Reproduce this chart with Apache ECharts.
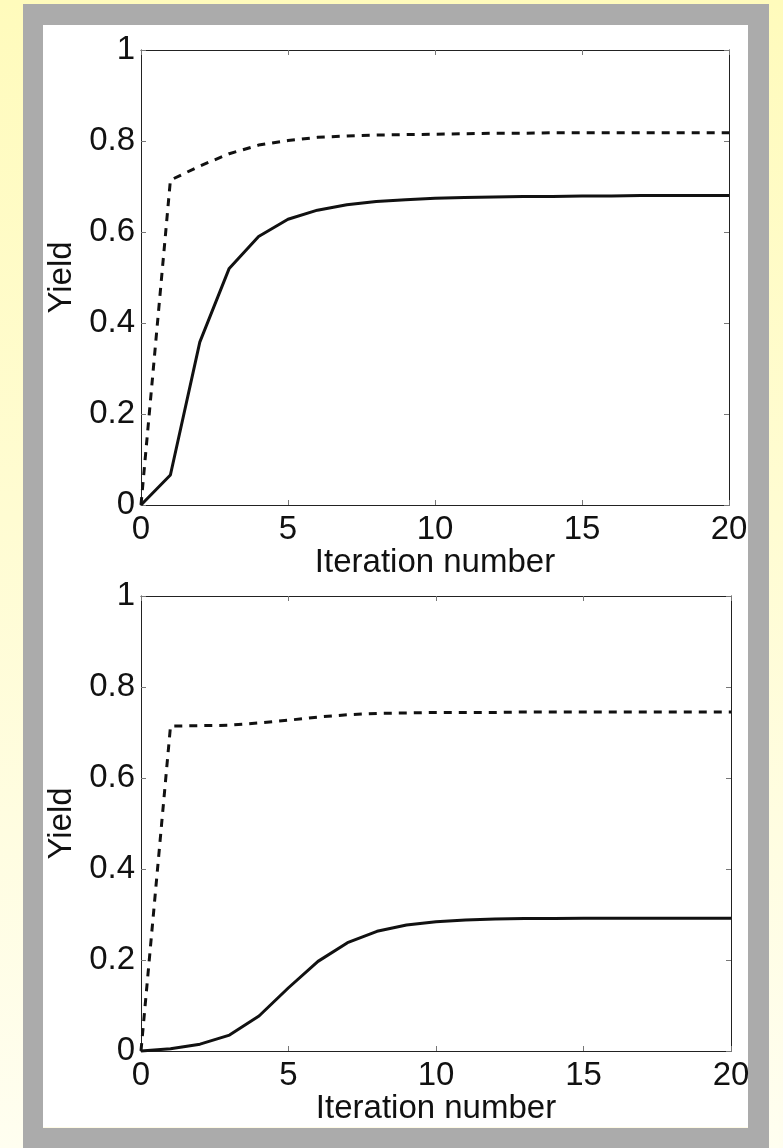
<!DOCTYPE html>
<html>
<head>
<meta charset="utf-8">
<script src="https://cdn.jsdelivr.net/npm/echarts@6/dist/echarts.min.js"></script>
<style>
  html, body { margin: 0; padding: 0; }
  body { width: 783px; height: 1148px; overflow: hidden; position: relative;
         background: linear-gradient(to bottom, #FFFBBC 0%, #FFFCD2 45%, #FFFEF0 100%); }
  #frame { position: absolute; left: 23px; top: 4px; width: 746px; height: 1150px; background: #ABABAB; }
  #inner { position: absolute; left: 43px; top: 25px; width: 705px; height: 1103px; background: #FFFFFF;
           border-bottom: 1px solid #FFFBE6; box-sizing: border-box; }
  #chart { position: absolute; left: 0; top: 0; width: 783px; height: 1148px; }
</style>
</head>
<body>
<div id="frame"></div>
<div id="inner"></div>
<div id="chart"></div>
<script>
// ---- data ----
const iterations = [0,1,2,3,4,5,6,7,8,9,10,11,12,13,14,15,16,17,18,19,20];
const xTicks = [0, 5, 10, 15, 20];
const yTicks = [0, 0.2, 0.4, 0.6, 0.8, 1];
const topSolid  = [0, 0.066, 0.358, 0.52, 0.59, 0.628, 0.648, 0.660, 0.667, 0.671, 0.674, 0.676, 0.677, 0.678, 0.678, 0.679, 0.679, 0.680, 0.680, 0.680, 0.680];
const topDashed = [0, 0.714, 0.745, 0.772, 0.791, 0.801, 0.808, 0.811, 0.813, 0.814, 0.815, 0.816, 0.817, 0.817, 0.818, 0.818, 0.818, 0.818, 0.818, 0.818, 0.818];
const botSolid  = [0, 0.005, 0.015, 0.035, 0.077, 0.139, 0.197, 0.238, 0.263, 0.277, 0.284, 0.288, 0.290, 0.291, 0.291, 0.292, 0.292, 0.292, 0.292, 0.292, 0.292];
const botDashed = [0, 0.714, 0.715, 0.716, 0.721, 0.727, 0.734, 0.739, 0.742, 0.743, 0.744, 0.744, 0.744, 0.745, 0.745, 0.745, 0.745, 0.745, 0.745, 0.745, 0.745];
const xName = 'Iteration number';
const yName = 'Yield';

// ---- chart ----
const FONT = "'Liberation Sans', Arial, Helvetica, sans-serif";
const FS = 33;
const pairs = arr => iterations.map((x, i) => [x, arr[i]]);

function xAxes(gi) {
  return [
    { type: 'value', gridIndex: gi, position: 'bottom', min: xTicks[0], max: xTicks[xTicks.length-1], interval: 5,
      name: xName, nameLocation: 'middle', nameGap: 40,
      nameTextStyle: { fontFamily: FONT, fontSize: FS, color: '#111' },
      axisLine: { show: true, onZero: false, lineStyle: { color: '#222', width: 1 } },
      axisTick: { show: true, inside: true, length: 5, lineStyle: { color: '#777', width: 1 } },
      axisLabel: { show: true, margin: 8, fontFamily: FONT, fontSize: FS, color: '#111',
                   showMinLabel: true, showMaxLabel: true },
      splitLine: { show: false } },
    { type: 'value', gridIndex: gi, position: 'top', min: xTicks[0], max: xTicks[xTicks.length-1], interval: 5,
      axisLine: { show: true, onZero: false, lineStyle: { color: '#222', width: 1 } },
      axisTick: { show: true, inside: true, length: 5, lineStyle: { color: '#777', width: 1 } },
      axisLabel: { show: false }, splitLine: { show: false } }
  ];
}
function yAxes(gi) {
  return [
    { type: 'value', gridIndex: gi, position: 'left', min: yTicks[0], max: yTicks[yTicks.length-1], interval: 0.2,
      name: yName, nameLocation: 'middle', nameGap: 61,
      nameTextStyle: { fontFamily: FONT, fontSize: FS, color: '#111' },
      axisLine: { show: true, onZero: false, lineStyle: { color: '#222', width: 1 } },
      axisTick: { show: true, inside: true, length: 5, lineStyle: { color: '#777', width: 1 } },
      axisLabel: { show: true, margin: 6, fontFamily: FONT, fontSize: FS, color: '#111',
                   formatter: v => String(Math.round(v * 10) / 10) },
      splitLine: { show: false } },
    { type: 'value', gridIndex: gi, position: 'right', min: yTicks[0], max: yTicks[yTicks.length-1], interval: 0.2,
      axisLine: { show: true, onZero: false, lineStyle: { color: '#222', width: 1 } },
      axisTick: { show: true, inside: true, length: 5, lineStyle: { color: '#777', width: 1 } },
      axisLabel: { show: false }, splitLine: { show: false } }
  ];
}
function series(gi, solid, dashed) {
  const base = { type: 'line', xAxisIndex: gi * 2, yAxisIndex: gi * 2, showSymbol: false, symbol: 'none',
                 silent: true, animation: false, clip: false };
  return [
    Object.assign({}, base, { data: pairs(dashed), lineStyle: { color: '#111', width: 3, type: [8, 7] } }),
    Object.assign({}, base, { data: pairs(solid), lineStyle: { color: '#111', width: 3, type: 'solid' } })
  ];
}

const chart = echarts.init(document.getElementById('chart'), null, { renderer: 'canvas' });
chart.setOption({
  backgroundColor: 'transparent',
  animation: false,
  grid: [
    { left: 141, top: 50, width: 588, height: 455 },
    { left: 141, top: 596, width: 590, height: 455 }
  ],
  xAxis: xAxes(0).concat(xAxes(1)),
  yAxis: yAxes(0).concat(yAxes(1)),
  series: series(0, topSolid, topDashed).concat(series(1, botSolid, botDashed))
});
</script>
</body>
</html>
